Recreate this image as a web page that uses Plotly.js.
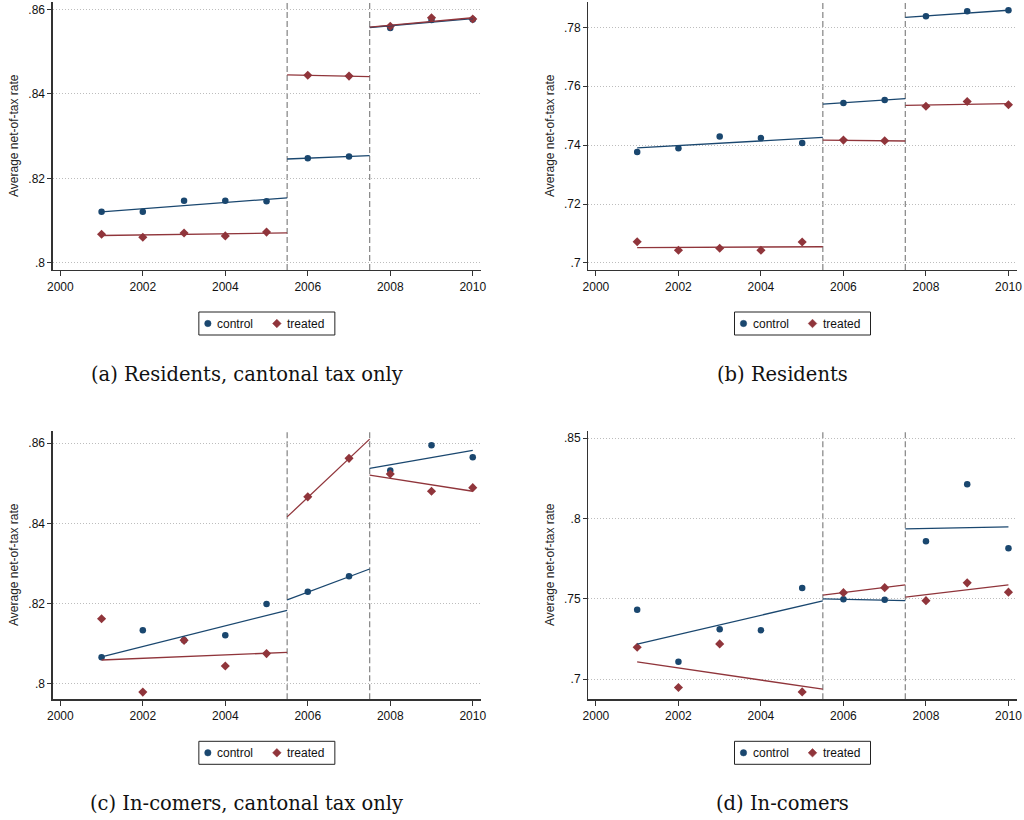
<!DOCTYPE html>
<html>
<head>
<meta charset="utf-8">
<script src="https://cdn.plot.ly/plotly-3.0.1.min.js"></script>
<style>html,body{margin:0;padding:0;background:#fff;}#chart{width:1024px;height:820px;}</style>
</head>
<body>
<div id="chart"></div>
<script>
// ---------------- data ----------------
const years = [2001, 2002, 2003, 2004, 2005, 2006, 2007, 2008, 2009, 2010];
const xTickVals = [2000, 2002, 2004, 2006, 2008, 2010];
const xTickText = ['2000', '2002', '2004', '2006', '2008', '2010'];
const breakYears = [2005.5, 2007.5];
const fitStartYears = [2001, 2005.5, 2007.5];
const fitEndYears = [2005.5, 2007.5, 2010];
const seriesNames = ['control', 'treated'];
const captions = ['(a) Residents, cantonal tax only', '(b) Residents', '(c) In-comers, cantonal tax only', '(d) In-comers'];
const yTitle = 'Average net-of-tax rate';

// (a) Residents, cantonal tax only
const aControl = [0.8121, 0.8121, 0.8147, 0.8147, 0.8146, 0.8248, 0.8252, 0.8556, 0.8575, 0.8576];
const aTreated = [0.8068, 0.8061, 0.8071, 0.8064, 0.8073, 0.8444, 0.8442, 0.8560, 0.8580, 0.8577];
const aControlFitStart = [0.8121, 0.8246, 0.8557];
const aControlFitEnd = [0.8154, 0.8254, 0.8578];
const aTreatedFitStart = [0.8065, 0.8445, 0.8558];
const aTreatedFitEnd = [0.8071, 0.8441, 0.8580];
const aYTickVals = [0.80, 0.82, 0.84, 0.86];
const aYTickText = ['.8', '.82', '.84', '.86'];

// (b) Residents
const bControl = [0.7377, 0.7389, 0.7429, 0.7424, 0.7407, 0.7543, 0.7553, 0.7838, 0.7855, 0.7858];
const bTreated = [0.7072, 0.7043, 0.7050, 0.7043, 0.7071, 0.7417, 0.7415, 0.7532, 0.7548, 0.7537];
const bControlFitStart = [0.7391, 0.7539, 0.7834];
const bControlFitEnd = [0.7426, 0.7558, 0.7858];
const bTreatedFitStart = [0.7052, 0.7417, 0.7535];
const bTreatedFitEnd = [0.7055, 0.7414, 0.7541];
const bYTickVals = [0.70, 0.72, 0.74, 0.76, 0.78];
const bYTickText = ['.7', '.72', '.74', '.76', '.78'];

// (c) In-comers, cantonal tax only
const cControl = [0.8066, 0.8133, 0.8108, 0.8121, 0.8199, 0.8229, 0.8268, 0.8532, 0.8595, 0.8565];
const cTreated = [0.8162, 0.7979, 0.8108, 0.8044, 0.8075, 0.8466, 0.8562, 0.8523, 0.8480, 0.8489];
const cControlFitStart = [0.8067, 0.8209, 0.8537];
const cControlFitEnd = [0.8183, 0.8286, 0.8582];
const cTreatedFitStart = [0.8059, 0.8416, 0.8520];
const cTreatedFitEnd = [0.8078, 0.8610, 0.8480];
const cYTickVals = [0.80, 0.82, 0.84, 0.86];
const cYTickText = ['.8', '.82', '.84', '.86'];

// (d) In-comers
const dControl = [0.7432, 0.7108, 0.7311, 0.7305, 0.7568, 0.7498, 0.7494, 0.7859, 0.8214, 0.7816];
const dTreated = [0.7199, 0.6948, 0.7220, null, 0.6921, 0.7539, 0.7570, 0.7489, 0.7600, 0.7542];
const dControlFitStart = [0.7218, 0.7500, 0.7936];
const dControlFitEnd = [0.7488, 0.7489, 0.7948];
const dTreatedFitStart = [0.7108, 0.7523, 0.7511];
const dTreatedFitEnd = [0.6938, 0.7587, 0.7587];
const dYTickVals = [0.70, 0.75, 0.80, 0.85];
const dYTickText = ['.7', '.75', '.8', '.85'];

// ---------------- styling / layout ----------------
const W = 1024, H = 820;
const NAVY = '#1a476f', MAROON = '#90353b';
const AXIS = '#333333';
const TICKFONT = {family: 'Liberation Sans, Arial, sans-serif', size: 12, color: '#111'};
const px = v => v / W;
const py = v => 1 - v / H;

const panels = [
  {ctrl: aControl, trt: aTreated, cfs: aControlFitStart, cfe: aControlFitEnd, tfs: aTreatedFitStart, tfe: aTreatedFitEnd,
   yv: aYTickVals, yt: aYTickText, yr: [0.79834, 0.86173], xd: [52.7, 481], yd: [2, 270], titleX: 14},
  {ctrl: bControl, trt: bTreated, cfs: bControlFitStart, cfe: bControlFitEnd, tfs: bTreatedFitStart, tfe: bTreatedFitEnd,
   yv: bYTickVals, yt: bYTickText, yr: [0.6976, 0.7886], xd: [588.3, 1016.7], yd: [2, 270], titleX: 550},
  {ctrl: cControl, trt: cTreated, cfs: cControlFitStart, cfe: cControlFitEnd, tfs: cTreatedFitStart, tfe: cTreatedFitEnd,
   yv: cYTickVals, yt: cYTickText, yr: [0.7961, 0.8631], xd: [52.7, 481], yd: [430.7, 699.3], titleX: 14},
  {ctrl: dControl, trt: dTreated, cfs: dControlFitStart, cfe: dControlFitEnd, tfs: dTreatedFitStart, tfe: dTreatedFitEnd,
   yv: dYTickVals, yt: dYTickText, yr: [0.6875, 0.8547], xd: [588.3, 1016.7], yd: [430.7, 699.3], titleX: 550}
];

function segs(starts, ends) {
  const xs = [], ys = [];
  for (let i = 0; i < starts.length; i++) {
    xs.push(fitStartYears[i], fitEndYears[i], null);
    ys.push(starts[i], ends[i], null);
  }
  return {xs, ys};
}

const traces = [];
const layout = {
  width: W, height: H,
  margin: {l: 0, r: 0, t: 0, b: 0},
  paper_bgcolor: '#fff', plot_bgcolor: '#fff',
  showlegend: false,
  shapes: [], annotations: []
};

panels.forEach((p, i) => {
  const n = i === 0 ? '' : String(i + 1);
  const xa = 'x' + n, ya = 'y' + n;
  traces.push({x: years, y: p.ctrl, xaxis: xa, yaxis: ya, type: 'scatter', mode: 'markers', name: seriesNames[0],
    marker: {symbol: 'circle', size: 6.5, color: NAVY}});
  traces.push({x: years, y: p.trt, xaxis: xa, yaxis: ya, type: 'scatter', mode: 'markers', name: seriesNames[1],
    marker: {symbol: 'diamond', size: 7, color: MAROON}});
  const cf = segs(p.cfs, p.cfe), tf = segs(p.tfs, p.tfe);
  traces.push({x: cf.xs, y: cf.ys, xaxis: xa, yaxis: ya, type: 'scatter', mode: 'lines', name: seriesNames[0] + ' fit',
    line: {color: NAVY, width: 1.3}, connectgaps: false});
  traces.push({x: tf.xs, y: tf.ys, xaxis: xa, yaxis: ya, type: 'scatter', mode: 'lines', name: seriesNames[1] + ' fit',
    line: {color: MAROON, width: 1.3}, connectgaps: false});

  layout['xaxis' + n] = {
    domain: [px(p.xd[0]), px(p.xd[1])], anchor: ya, range: [1999.815, 2010.2],
    tickvals: xTickVals, ticktext: xTickText, ticks: 'outside', ticklen: 5, tickwidth: 1, tickcolor: AXIS,
    showline: true, linecolor: AXIS, linewidth: 1.3, showgrid: false, zeroline: false, tickfont: TICKFONT, fixedrange: true
  };
  layout['yaxis' + n] = {
    domain: [py(p.yd[1]), py(p.yd[0])], anchor: xa, range: p.yr,
    tickvals: p.yv, ticktext: p.yt, ticks: 'outside', ticklen: 4, tickwidth: 1, tickcolor: AXIS,
    showline: true, linecolor: AXIS, linewidth: 1.3, showgrid: true, gridcolor: '#bdbdbd', griddash: '1px,2px', gridwidth: 1,
    zeroline: false, tickfont: TICKFONT, fixedrange: true
  };

  breakYears.forEach(b => {
    layout.shapes.push({type: 'line', xref: xa, yref: ya + ' domain', x0: b, x1: b, y0: 0, y1: 1,
      line: {color: '#8c8c8c', width: 1.3, dash: '6px,3px'}, layer: 'below'});
  });

  // y title
  layout.annotations.push({xref: 'paper', yref: 'paper', x: px(p.titleX), y: py((p.yd[0] + p.yd[1]) / 2),
    text: yTitle, textangle: -90, showarrow: false, xanchor: 'center', yanchor: 'middle',
    font: {family: 'Liberation Sans, Arial, sans-serif', size: 12, color: '#222'}});

  // legend box
  const cx = (p.xd[0] + p.xd[1]) / 2;
  const bw = 136, bh = 23;
  const bl = cx - bw / 2, bt = p.yd[1] + 42;
  const mid = bt + bh / 2;
  layout.shapes.push({type: 'rect', xref: 'paper', yref: 'paper', x0: px(bl), x1: px(bl + bw), y0: py(bt), y1: py(bt + bh),
    line: {color: '#222', width: 1}, fillcolor: '#fff'});
  layout.shapes.push({type: 'circle', xref: 'paper', yref: 'paper', xsizemode: 'pixel', ysizemode: 'pixel',
    xanchor: px(bl + 9), yanchor: py(mid), x0: -3.2, x1: 3.2, y0: -3.2, y1: 3.2,
    fillcolor: NAVY, line: {color: NAVY, width: 0.5}});
  layout.shapes.push({type: 'path', xref: 'paper', yref: 'paper', xsizemode: 'pixel', ysizemode: 'pixel',
    xanchor: px(bl + 78), yanchor: py(mid), path: 'M -4.3 0 L 0 4.3 L 4.3 0 L 0 -4.3 Z',
    fillcolor: MAROON, line: {color: MAROON, width: 0.5}});
  layout.annotations.push({xref: 'paper', yref: 'paper', x: px(bl + 17), y: py(mid), text: seriesNames[0],
    showarrow: false, xanchor: 'left', yanchor: 'middle', borderpad: 0,
    font: {family: 'Liberation Sans, Arial, sans-serif', size: 12, color: '#111'}});
  layout.annotations.push({xref: 'paper', yref: 'paper', x: px(bl + 87), y: py(mid), text: seriesNames[1],
    showarrow: false, xanchor: 'left', yanchor: 'middle', borderpad: 0,
    font: {family: 'Liberation Sans, Arial, sans-serif', size: 12, color: '#111'}});

  // caption
  layout.annotations.push({xref: 'paper', yref: 'paper', x: px(cx - 20), y: py(p.yd[1] + 104.5), text: captions[i],
    showarrow: false, xanchor: 'center', yanchor: 'middle',
    font: {family: 'DejaVu Serif, serif', size: 19.5, color: '#111'}});
});

Plotly.newPlot('chart', traces, layout, {staticPlot: true, displayModeBar: false});
</script>
</body>
</html>
